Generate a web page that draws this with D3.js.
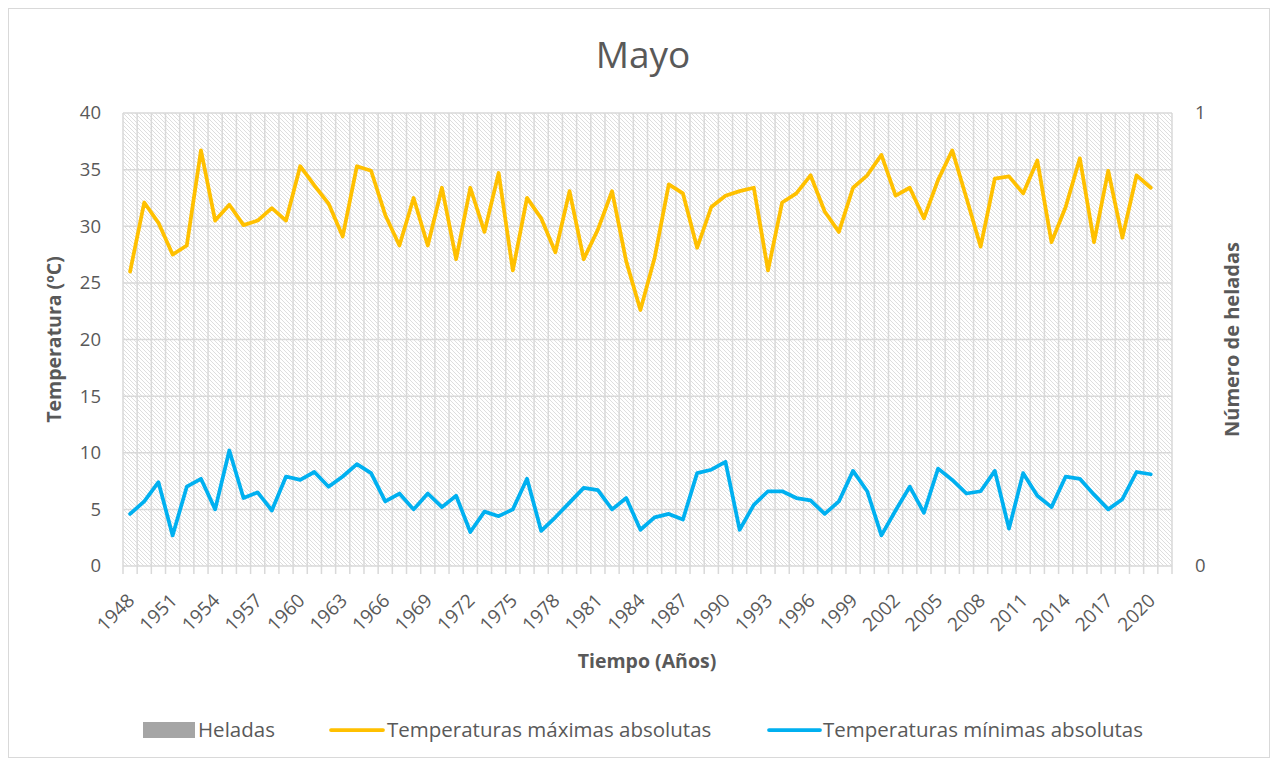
<!DOCTYPE html>
<html>
<head>
<meta charset="utf-8">
<script src="https://cdn.jsdelivr.net/npm/d3@7"></script>
<style>
  html, body { margin: 0; padding: 0; background: #fff; }
  svg { display: block; }
</style>
</head>
<body>
<svg id="chart"></svg>
<script>
// años 1948-2021 (2021 sin datos)
const years = d3.range(1948, 2022);

const tMax = [
  26.0, 32.1, 30.3, 27.5, 28.3, 36.7, 30.5, 31.9, 30.1, 30.5,
  31.6, 30.5, 35.3, 33.6, 32.0, 29.1, 35.3, 34.9, 31.0, 28.3,
  32.5, 28.3, 33.4, 27.1, 33.4, 29.5, 34.7, 26.1, 32.5, 30.7,
  27.7, 33.1, 27.1, 29.7, 33.1, 26.9, 22.6, 27.2, 33.7, 32.9,
  28.1, 31.7, 32.7, 33.1, 33.4, 26.1, 32.1, 32.9, 34.5, 31.3,
  29.5, 33.4, 34.5, 36.3, 32.7, 33.4, 30.7, 34.1, 36.7, 32.5,
  28.2, 34.2, 34.4, 32.9, 35.8, 28.6, 31.7, 36.0, 28.6, 34.9,
  29.0, 34.5, 33.4
];

const tMin = [
  4.6, 5.7, 7.4, 2.7, 7.0, 7.7, 5.0, 10.2, 6.0, 6.5,
  4.9, 7.9, 7.6, 8.3, 7.0, 7.9, 9.0, 8.2, 5.7, 6.4,
  5.0, 6.4, 5.2, 6.2, 3.0, 4.8, 4.4, 5.0, 7.7, 3.1,
  4.3, 5.6, 6.9, 6.7, 5.0, 6.0, 3.2, 4.3, 4.6, 4.1,
  8.2, 8.5, 9.2, 3.2, 5.4, 6.6, 6.6, 6.0, 5.8, 4.6,
  5.7, 8.4, 6.6, 2.7, 4.9, 7.0, 4.7, 8.6, 7.6, 6.4,
  6.6, 8.4, 3.3, 8.2, 6.2, 5.2, 7.9, 7.7, 6.3, 5.0,
  5.9, 8.3, 8.1
];

// número de heladas (ninguna en mayo)
const heladas = tMax.map(() => 0);

const yTicks = d3.range(0, 41, 5);
const y2Ticks = [0, 1];

const width = 1277;
const height = 765;
const margin = { top: 113, right: 105, bottom: 199, left: 123 };
const chartWidth = 1172 - margin.left;
const chartHeight = 566 - margin.top;

const font = "'Open Sans', 'Liberation Sans', sans-serif";
const textColor = "#595959";
const gridColor = "#d9d9d9";

const svgRoot = d3.select("#chart").attr("width", width).attr("height", height);

svgRoot.append("rect")
  .attr("x", 0).attr("y", 0)
  .attr("width", width).attr("height", height)
  .attr("fill", "#fff");

svgRoot.append("rect")
  .attr("x", 8.5).attr("y", 8.5)
  .attr("width", 1261).attr("height", 749)
  .attr("fill", "none")
  .attr("stroke", gridColor)
  .attr("stroke-width", 1);

// patrón rayado del área de trazado
const defs = svgRoot.append("defs");
const pat = defs.append("pattern")
  .attr("id", "hatch")
  .attr("patternUnits", "userSpaceOnUse")
  .attr("width", 4).attr("height", 4);
pat.append("rect").attr("width", 4).attr("height", 4).attr("fill", "#fff");
pat.append("path")
  .attr("d", "M-1,-1 L5,5 M-1,3 L1,5 M3,-1 L5,1")
  .attr("stroke", "#dedede")
  .attr("stroke-width", 1);

const x = d3.scaleBand().domain(years).range([0, chartWidth]).padding(0);
const y = d3.scaleLinear().domain([0, 40]).range([chartHeight, 0]);
const y2 = d3.scaleLinear().domain([0, 1]).range([chartHeight, 0]);

const svg = svgRoot.append("g")
  .attr("transform", `translate(${margin.left},${margin.top})`);

svg.append("rect")
  .attr("width", chartWidth).attr("height", chartHeight)
  .attr("fill", "url(#hatch)");

// rejilla
const grid = svg.append("g").attr("id", "grid");
grid.selectAll("line.v")
  .data(years.concat([null]))
  .join("line")
  .attr("class", "v")
  .attr("x1", (d, i) => i * x.bandwidth())
  .attr("x2", (d, i) => i * x.bandwidth())
  .attr("y1", 0)
  .attr("y2", chartHeight + 8)
  .attr("stroke", gridColor)
  .attr("stroke-width", 1.5);

grid.selectAll("line.h")
  .data(yTicks)
  .join("line")
  .attr("class", "h")
  .attr("x1", 0).attr("x2", chartWidth)
  .attr("y1", (d) => y(d)).attr("y2", (d) => y(d))
  .attr("stroke", gridColor)
  .attr("stroke-width", 1.5);

// eje Y izquierdo
const yAxis = svg.append("g").attr("id", "y-axis")
  .call(d3.axisLeft(y).tickValues(yTicks).tickSize(0).tickPadding(22));
yAxis.select(".domain").remove();
yAxis.selectAll("text")
  .attr("font-family", font).attr("font-size", 18.5).attr("fill", textColor);

// eje Y derecho
const y2Axis = svg.append("g").attr("id", "y2-axis")
  .attr("transform", `translate(${chartWidth},0)`)
  .call(d3.axisRight(y2).tickValues(y2Ticks).tickFormat(d3.format("d")).tickSize(0).tickPadding(23));
y2Axis.select(".domain").remove();
y2Axis.selectAll("text")
  .attr("font-family", font).attr("font-size", 18.5).attr("fill", textColor);

// eje X
const xLabels = svg.append("g").attr("id", "x-axis")
  .attr("transform", `translate(0,${chartHeight})`);
xLabels.selectAll("text")
  .data(years.filter((d, i) => i % 3 === 0 && i < tMax.length))
  .join("text")
  .attr("transform", (d) => `translate(${x(d) + x.bandwidth() / 2 + 1},${31}) rotate(-45)`)
  .attr("text-anchor", "end")
  .attr("dy", "0.35em")
  .attr("font-family", font).attr("font-size", 19).attr("fill", textColor)
  .text((d) => d);

// barras de heladas (eje secundario)
svg.append("g").attr("id", "bars")
  .selectAll("rect")
  .data(heladas)
  .join("rect")
  .attr("x", (d, i) => x(years[i]) + x.bandwidth() * 0.2)
  .attr("width", x.bandwidth() * 0.6)
  .attr("y", (d) => y2(d))
  .attr("height", (d) => chartHeight - y2(d))
  .attr("fill", "#a5a5a5");

const line = d3.line()
  .x((d, i) => x(years[i]) + x.bandwidth() / 2)
  .y((d) => y(d));

svg.append("path")
  .datum(tMax)
  .attr("d", line)
  .attr("fill", "none")
  .attr("stroke", "#ffc000")
  .attr("stroke-width", 3.75)
  .attr("stroke-linejoin", "round")
  .attr("stroke-linecap", "round");

svg.append("path")
  .datum(tMin)
  .attr("d", line)
  .attr("fill", "none")
  .attr("stroke", "#00b0f0")
  .attr("stroke-width", 3.75)
  .attr("stroke-linejoin", "round")
  .attr("stroke-linecap", "round");

// títulos
svgRoot.append("text")
  .attr("x", 643).attr("y", 68)
  .attr("text-anchor", "middle")
  .attr("font-family", font).attr("font-size", 37).attr("fill", textColor)
  .text("Mayo");

svgRoot.append("text")
  .attr("transform", `translate(61,${margin.top + chartHeight / 2}) rotate(-90)`)
  .attr("text-anchor", "middle")
  .attr("font-family", font).attr("font-size", 19.5).attr("font-weight", "bold").attr("fill", textColor)
  .text("Temperatura (ºC)");

svgRoot.append("text")
  .attr("transform", `translate(1239,${margin.top + chartHeight / 2}) rotate(-90)`)
  .attr("text-anchor", "middle")
  .attr("font-family", font).attr("font-size", 20).attr("font-weight", "bold").attr("fill", textColor)
  .text("Número de heladas");

svgRoot.append("text")
  .attr("x", 647).attr("y", 668)
  .attr("text-anchor", "middle")
  .attr("font-family", font).attr("font-size", 19.5).attr("font-weight", "bold").attr("fill", textColor)
  .text("Tiempo (Años)");

// leyenda
const legend = svgRoot.append("g").attr("id", "legend");
legend.append("rect")
  .attr("x", 143).attr("y", 722).attr("width", 52).attr("height", 16)
  .attr("fill", "#a5a5a5");
legend.append("text")
  .attr("x", 198).attr("y", 737)
  .attr("font-family", font).attr("font-size", 20.5).attr("fill", textColor)
  .text("Heladas");

legend.append("line")
  .attr("x1", 331).attr("x2", 383).attr("y1", 730).attr("y2", 730)
  .attr("stroke", "#ffc000").attr("stroke-width", 3.75).attr("stroke-linecap", "round");
legend.append("text")
  .attr("x", 387).attr("y", 737)
  .attr("font-family", font).attr("font-size", 20.5).attr("fill", textColor)
  .text("Temperaturas máximas absolutas");

legend.append("line")
  .attr("x1", 769).attr("x2", 820).attr("y1", 730).attr("y2", 730)
  .attr("stroke", "#00b0f0").attr("stroke-width", 3.75).attr("stroke-linecap", "round");
legend.append("text")
  .attr("x", 823).attr("y", 737)
  .attr("font-family", font).attr("font-size", 20.5).attr("fill", textColor)
  .text("Temperaturas mínimas absolutas");
</script>
</body>
</html>
